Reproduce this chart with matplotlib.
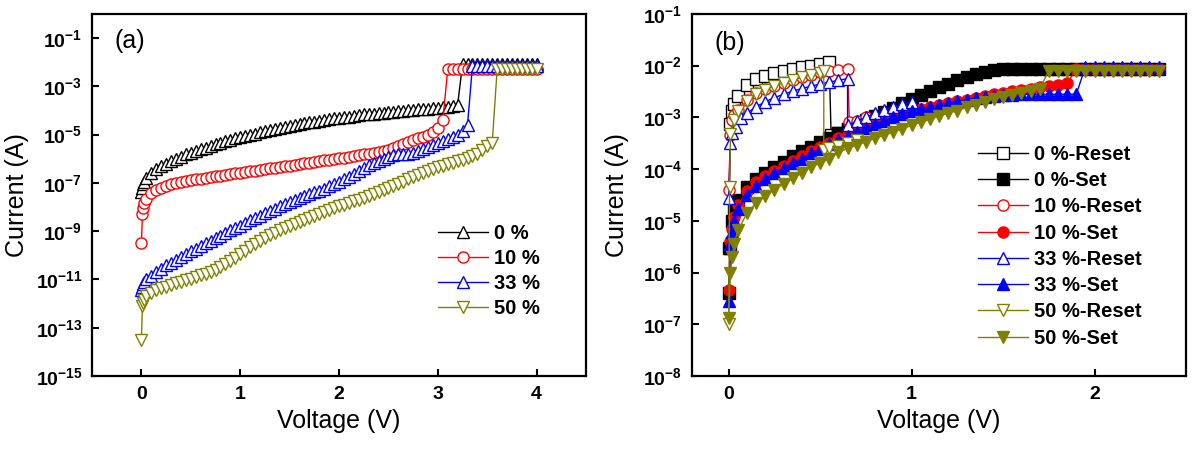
import numpy as np
import matplotlib
matplotlib.use("Agg")
import matplotlib.pyplot as plt
from matplotlib.ticker import FixedLocator, NullLocator, FuncFormatter

plt.rcParams['font.family'] = 'Liberation Sans'
plt.rcParams['font.weight'] = 'bold'
plt.rcParams['mathtext.fontset'] = 'custom'
plt.rcParams['mathtext.rm'] = 'Liberation Sans'
plt.rcParams['mathtext.bf'] = 'Liberation Sans:bold'

# ---------------- panel (a): forming sweeps ----------------
V_a = [0.00, 0.01, 0.02, 0.03,
       0.05, 0.10, 0.15, 0.20, 0.25, 0.30, 0.35, 0.40, 0.45, 0.50,
       0.55, 0.60, 0.65, 0.70, 0.75, 0.80, 0.85, 0.90, 0.95, 1.00,
       1.05, 1.10, 1.15, 1.20, 1.25, 1.30, 1.35, 1.40, 1.45, 1.50,
       1.55, 1.60, 1.65, 1.70, 1.75, 1.80, 1.85, 1.90, 1.95, 2.00,
       2.05, 2.10, 2.15, 2.20, 2.25, 2.30, 2.35, 2.40, 2.45, 2.50,
       2.55, 2.60, 2.65, 2.70, 2.75, 2.80, 2.85, 2.90, 2.95, 3.00,
       3.05, 3.10, 3.15, 3.20, 3.25, 3.30, 3.35, 3.40, 3.45, 3.50,
       3.55, 3.60, 3.65, 3.70, 3.75, 3.80, 3.85, 3.90, 3.95, 4.00]

# off-state currents (A) up to the forming jump
I_a_0 = [4.0e-8, 6.3e-8, 8.9e-8, 1.1e-7, 1.6e-7,
         2.5e-7, 3.7e-7, 5.0e-7, 6.3e-7, 7.9e-7,
         1.0e-6, 1.2e-6, 1.5e-6, 1.8e-6, 2.1e-6,
         2.5e-6, 2.9e-6, 3.4e-6, 4.0e-6, 4.6e-6,
         5.2e-6, 6.0e-6, 6.9e-6, 7.9e-6, 8.9e-6,
         1.0e-5, 1.1e-5, 1.3e-5, 1.4e-5, 1.5e-5,
         1.7e-5, 1.9e-5, 2.0e-5, 2.2e-5, 2.5e-5,
         2.7e-5, 2.9e-5, 3.2e-5, 3.4e-5, 3.7e-5,
         4.0e-5, 4.4e-5, 4.7e-5, 5.0e-5, 5.4e-5,
         5.6e-5, 6.0e-5, 6.3e-5, 6.8e-5, 7.1e-5,
         7.4e-5, 7.8e-5, 8.1e-5, 8.5e-5, 8.9e-5,
         9.3e-5, 9.8e-5, 1.02e-4, 1.07e-4, 1.12e-4,
         1.17e-4, 1.2e-4, 1.26e-4, 1.3e-4, 1.4e-4,
         1.45e-4, 1.5e-4, 1.7e-4]
I_a_10 = [3.2e-10, 5.0e-9, 8.9e-9, 1.4e-8, 2.2e-8,
          3.8e-8, 5.0e-8, 6.3e-8, 7.6e-8, 8.7e-8,
          1.0e-7, 1.1e-7, 1.2e-7, 1.3e-7, 1.4e-7,
          1.5e-7, 1.6e-7, 1.7e-7, 1.9e-7, 2.0e-7,
          2.1e-7, 2.3e-7, 2.5e-7, 2.6e-7, 2.8e-7,
          3.0e-7, 3.2e-7, 3.5e-7, 3.7e-7, 4.0e-7,
          4.3e-7, 4.6e-7, 4.9e-7, 5.2e-7, 5.6e-7,
          6.0e-7, 6.5e-7, 6.9e-7, 7.4e-7, 7.9e-7,
          8.5e-7, 9.1e-7, 9.8e-7, 1.05e-6, 1.1e-6,
          1.2e-6, 1.3e-6, 1.4e-6, 1.5e-6, 1.6e-6,
          1.7e-6, 1.9e-6, 2.1e-6, 2.4e-6, 2.8e-6,
          3.4e-6, 4.2e-6, 5.0e-6, 6.0e-6, 7.1e-6,
          8.3e-6, 1.0e-5, 1.3e-5, 1.8e-5, 4.0e-5]
I_a_33 = [3.5e-12, 5.0e-12, 6.3e-12, 7.6e-12, 1.0e-11,
          1.4e-11, 2.0e-11, 2.8e-11, 3.8e-11, 5.0e-11,
          6.6e-11, 8.7e-11, 1.1e-10, 1.45e-10, 1.9e-10,
          2.4e-10, 3.1e-10, 4.0e-10, 5.0e-10, 6.5e-10,
          8.3e-10, 1.07e-9, 1.4e-9, 1.7e-9, 2.2e-9,
          2.8e-9, 3.5e-9, 4.4e-9, 5.5e-9, 6.9e-9,
          8.5e-9, 1.05e-8, 1.3e-8, 1.6e-8, 1.9e-8,
          2.3e-8, 2.8e-8, 3.3e-8, 4.0e-8, 4.8e-8,
          5.8e-8, 7.1e-8, 8.9e-8, 1.1e-7, 1.4e-7,
          1.8e-7, 2.4e-7, 3.2e-7, 4.2e-7, 5.4e-7,
          6.8e-7, 8.3e-7, 1.0e-6, 1.2e-6, 1.4e-6,
          1.5e-6, 1.6e-6, 1.6e-6, 1.7e-6, 2.0e-6,
          2.5e-6, 3.2e-6, 3.8e-6, 4.5e-6, 5.4e-6,
          6.6e-6, 7.9e-6, 1.0e-5, 1.4e-5, 2.5e-5]
I_a_50 = [3.2e-14, 8.0e-13, 1.1e-12, 1.4e-12, 2.0e-12,
          2.8e-12, 3.5e-12, 4.3e-12, 5.0e-12, 5.9e-12,
          6.8e-12, 7.9e-12, 9.1e-12, 1.07e-11, 1.26e-11,
          1.5e-11, 1.7e-11, 2.1e-11, 2.5e-11, 3.2e-11,
          4.2e-11, 5.6e-11, 7.9e-11, 1.1e-10, 1.5e-10,
          2.1e-10, 2.9e-10, 4.0e-10, 5.2e-10, 6.8e-10,
          8.7e-10, 1.1e-9, 1.35e-9, 1.7e-9, 2.0e-9,
          2.4e-9, 2.9e-9, 3.5e-9, 4.2e-9, 5.0e-9,
          6.0e-9, 7.2e-9, 8.7e-9, 1.05e-8, 1.2e-8,
          1.45e-8, 1.7e-8, 2.0e-8, 2.4e-8, 2.9e-8,
          3.5e-8, 4.2e-8, 5.0e-8, 6.0e-8, 7.4e-8,
          9.1e-8, 1.1e-7, 1.4e-7, 1.7e-7, 2.1e-7,
          2.6e-7, 3.2e-7, 3.8e-7, 4.5e-7, 5.2e-7,
          6.0e-7, 6.9e-7, 7.9e-7, 8.9e-7, 1.05e-6,
          1.26e-6, 1.6e-6, 2.2e-6, 3.5e-6, 4.5e-6]
# on-state (compliance) current after the jump
I_on_a = {'0 %': 8.5e-3, '10 %': 5.0e-3, '33 %': 7.0e-3, '50 %': 5.0e-3}

# ---------------- panel (b): set / reset sweeps ----------------
V_b = [0.00, 0.01, 0.02, 0.03,
       0.05, 0.10, 0.15, 0.20, 0.25, 0.30, 0.35, 0.40, 0.45, 0.50,
       0.55, 0.60, 0.65, 0.70, 0.75, 0.80, 0.85, 0.90, 0.95, 1.00,
       1.05, 1.10, 1.15, 1.20, 1.25, 1.30, 1.35, 1.40, 1.45, 1.50,
       1.55, 1.60, 1.65, 1.70, 1.75, 1.80, 1.85, 1.90, 1.95, 2.00,
       2.05, 2.10, 2.15, 2.20, 2.25, 2.30, 2.35]

I_set_0 = [4.0e-7, 3.0e-6, 1.0e-5, 1.6e-5,
           2.5e-5, 4.5e-5, 6.5e-5, 8.5e-5, 1.1e-4,
           1.4e-4, 1.75e-4, 2.2e-4, 2.7e-4, 3.3e-4,
           4.0e-4, 4.9e-4, 6.0e-4, 7.3e-4, 8.8e-4,
           1.05e-3, 1.25e-3, 1.5e-3, 1.9e-3, 2.3e-3,
           2.7e-3, 3.2e-3, 3.8e-3, 4.5e-3, 5.2e-3,
           6.0e-3, 6.8e-3, 7.6e-3, 8.3e-3]
I_set_10 = [4.5e-7, 4.0e-6, 7.0e-6, 1.2e-5,
            2.0e-5, 3.7e-5, 5.5e-5, 7.2e-5, 9.2e-5,
            1.15e-4, 1.45e-4, 1.8e-4, 2.2e-4, 2.7e-4,
            3.2e-4, 3.9e-4, 4.6e-4, 5.5e-4, 6.5e-4,
            7.6e-4, 8.8e-4, 1.0e-3, 1.15e-3, 1.3e-3,
            1.45e-3, 1.6e-3, 1.75e-3, 1.9e-3, 2.05e-3,
            2.2e-3, 2.4e-3, 2.6e-3, 2.8e-3, 3.0e-3,
            3.2e-3, 3.4e-3, 3.6e-3, 3.8e-3, 4.0e-3,
            4.3e-3, 4.6e-3]
I_set_33 = [2.8e-7, 3.5e-6, 6.0e-6, 1.0e-5,
            1.7e-5, 3.2e-5, 4.8e-5, 6.5e-5, 8.3e-5,
            1.05e-4, 1.3e-4, 1.6e-4, 2.0e-4, 2.45e-4,
            3.0e-4, 3.6e-4, 4.4e-4, 5.3e-4, 6.3e-4,
            7.4e-4, 8.6e-4, 1.0e-3, 1.15e-3, 1.3e-3,
            1.45e-3, 1.6e-3, 1.75e-3, 1.9e-3, 2.05e-3,
            2.2e-3, 2.35e-3, 2.5e-3, 2.6e-3, 2.7e-3,
            2.75e-3, 2.8e-3, 2.8e-3, 2.8e-3, 2.8e-3,
            2.8e-3, 2.8e-3, 2.8e-3]
I_set_50 = [1.3e-7, 1.0e-6, 2.0e-6, 3.5e-6,
            6.5e-6, 1.4e-5, 2.2e-5, 3.0e-5, 4.0e-5,
            5.2e-5, 6.6e-5, 8.3e-5, 1.1e-4, 1.3e-4,
            1.6e-4, 2.1e-4, 2.5e-4, 2.9e-4, 3.4e-4,
            3.9e-4, 4.5e-4, 5.2e-4, 6.0e-4, 7.0e-4,
            8.0e-4, 9.2e-4, 1.05e-3, 1.2e-3, 1.35e-3,
            1.55e-3, 1.75e-3, 2.0e-3, 2.25e-3, 2.5e-3,
            2.75e-3, 3.0e-3, 3.3e-3, 3.6e-3]
I_on_b = {'0': 8.5e-3, '10': 8.5e-3, '33': 9.5e-3, '50': 8.0e-3}

V_reset_0 = [0.00, 0.01, 0.02, 0.03, 0.05, 0.10, 0.15, 0.20, 0.25, 0.30,
             0.35, 0.40, 0.45, 0.50, 0.55, 0.56, 0.60, 0.65, 0.70]
I_reset_0 = [3.0e-6, 7.5e-4, 1.3e-3, 1.8e-3, 2.6e-3, 4.2e-3, 5.4e-3, 6.3e-3, 7.2e-3, 8.0e-3,
             8.6e-3, 9.2e-3, 1.0e-2, 1.07e-2, 1.15e-2, 4.5e-4, 5.0e-4, 6.0e-4, 7.0e-4]
V_reset_10 = [0.00, 0.01, 0.02, 0.03, 0.05, 0.10, 0.15, 0.20, 0.25, 0.30,
              0.35, 0.40, 0.45, 0.50, 0.55, 0.60, 0.65, 0.66, 0.70, 0.75]
I_reset_10 = [4.0e-5, 4.5e-4, 9.0e-4, 1.1e-3, 1.4e-3, 2.2e-3, 2.9e-3, 3.5e-3, 4.1e-3, 4.7e-3,
              5.3e-3, 6.0e-3, 6.7e-3, 7.4e-3, 8.0e-3, 8.4e-3, 8.7e-3, 8.0e-4, 8.6e-4, 1.0e-3]
V_reset_33 = [0.00, 0.01, 0.02, 0.04, 0.07, 0.10, 0.15, 0.20, 0.25, 0.30,
              0.35, 0.40, 0.45, 0.50, 0.55, 0.60, 0.65, 0.65, 0.70, 0.75,
              0.80, 0.85, 0.90, 0.95, 1.00]
I_reset_33 = [2.7e-5, 3.2e-4, 5.0e-4, 6.6e-4, 9.5e-4, 1.2e-3, 1.6e-3, 2.0e-3, 2.4e-3, 2.8e-3,
              3.2e-3, 3.6e-3, 4.0e-3, 4.4e-3, 4.8e-3, 5.2e-3, 5.6e-3, 7.0e-4, 8.5e-4, 1.0e-3,
              1.2e-3, 1.4e-3, 1.6e-3, 1.8e-3, 2.0e-3]
V_reset_50 = [0.00, 0.005, 0.01, 0.03, 0.05, 0.10, 0.15, 0.20, 0.25, 0.30,
              0.35, 0.40, 0.45, 0.50, 0.52, 0.52, 0.55, 0.60, 0.65, 0.70]
I_reset_50 = [1.0e-7, 4.5e-5, 4.8e-4, 9.0e-4, 1.3e-3, 2.1e-3, 2.8e-3, 3.4e-3, 4.0e-3, 4.6e-3,
              5.2e-3, 5.9e-3, 6.6e-3, 7.3e-3, 7.7e-3, 2.3e-4, 2.5e-4, 2.8e-4, 3.2e-4, 3.7e-4]

colors = {'0': '#000000', '10': '#ff0000', '33': '#0000ff', '50': '#808000'}


def with_on_state(V, I_off, I_on):
    # pad a sweep with its on-state (compliance) current up to the end of V
    return list(V), list(I_off) + [I_on] * (len(V) - len(I_off))


def log_label(y, pos):
    return r'$\mathbf{10^{%d}}$' % int(round(np.log10(y)))


def style_axis(ax, yticks, xticks, xlim, ylim):
    ax.set_yscale('log')
    ax.set_xlim(*xlim)
    ax.set_ylim(*ylim)
    ax.yaxis.set_major_locator(FixedLocator(yticks))
    ax.yaxis.set_minor_locator(NullLocator())
    ax.yaxis.set_major_formatter(FuncFormatter(log_label))
    ax.set_xticks(xticks)
    ax.tick_params(direction='in', length=5, width=1.5, labelsize=14, pad=7)
    for sp in ax.spines.values():
        sp.set_linewidth(1.6)
    ax.set_xlabel('Voltage (V)', fontsize=18, fontweight='normal')
    ax.set_ylabel('Current (A)', fontsize=18, fontweight='normal')
    ax.xaxis.set_label_coords(0.5, -0.09)
    ax.yaxis.set_label_coords(-0.128, 0.5)


fig = plt.figure(figsize=(12, 4.63), dpi=100)
ax1 = fig.add_axes([0.0767, 0.188, 0.4117, 0.782])
ax2 = fig.add_axes([0.5767, 0.188, 0.4117, 0.782])

# panel (a)
curves_a = [('0 %', I_a_0, '0', '^'), ('10 %', I_a_10, '10', 'o'),
            ('33 %', I_a_33, '33', '^'), ('50 %', I_a_50, '50', 'v')]
for label, I_off, key, mk in curves_a:
    V, I = with_on_state(V_a, I_off, I_on_a[label])
    ax1.plot(V, I, color=colors[key], marker=mk, markersize=8, markerfacecolor='white',
             markeredgecolor=colors[key], markeredgewidth=1.0, linewidth=1.0, label=label)

style_axis(ax1, [10.0 ** e for e in range(-15, 0, 2)], [0, 1, 2, 3, 4], (-0.5, 4.5), (1e-15, 1))
ax1.text(0.045, 0.925, '(a)', transform=ax1.transAxes, fontsize=18, fontweight='normal',
         ha='left', va='center')
ax1.legend(loc='upper left', bbox_to_anchor=(0.70, 0.42), frameon=False,
           prop={'weight': 'bold', 'size': 14.5}, handlelength=2.5, handletextpad=0.3,
           labelspacing=0.3, borderpad=0, borderaxespad=0)

# panel (b)
curves_b = [('0 %-Reset', V_reset_0, I_reset_0, '0', 's', False),
            ('0 %-Set', V_b, I_set_0, '0', 's', True),
            ('10 %-Reset', V_reset_10, I_reset_10, '10', 'o', False),
            ('10 %-Set', V_b, I_set_10, '10', 'o', True),
            ('33 %-Reset', V_reset_33, I_reset_33, '33', '^', False),
            ('33 %-Set', V_b, I_set_33, '33', '^', True),
            ('50 %-Reset', V_reset_50, I_reset_50, '50', 'v', False),
            ('50 %-Set', V_b, I_set_50, '50', 'v', True)]
for label, V, I, key, mk, filled in curves_b:
    if filled:
        V, I = with_on_state(V, I, I_on_b[key])
    ax2.plot(V, I, color=colors[key], marker=mk, markersize=8,
             markerfacecolor=colors[key] if filled else 'white',
             markeredgecolor=colors[key], markeredgewidth=1.0, linewidth=1.0, label=label)

style_axis(ax2, [10.0 ** e for e in range(-8, 0)], [0, 1, 2], (-0.2, 2.5), (1e-8, 1e-1))
ax2.text(0.045, 0.92, '(b)', transform=ax2.transAxes, fontsize=18, fontweight='normal',
         ha='left', va='center')
ax2.legend(loc='upper left', bbox_to_anchor=(0.578, 0.638), frameon=False,
           prop={'weight': 'bold', 'size': 14.5}, handlelength=2.5, handletextpad=0.3,
           labelspacing=0.36, borderpad=0, borderaxespad=0)

fig.savefig('out.png', dpi=100)
